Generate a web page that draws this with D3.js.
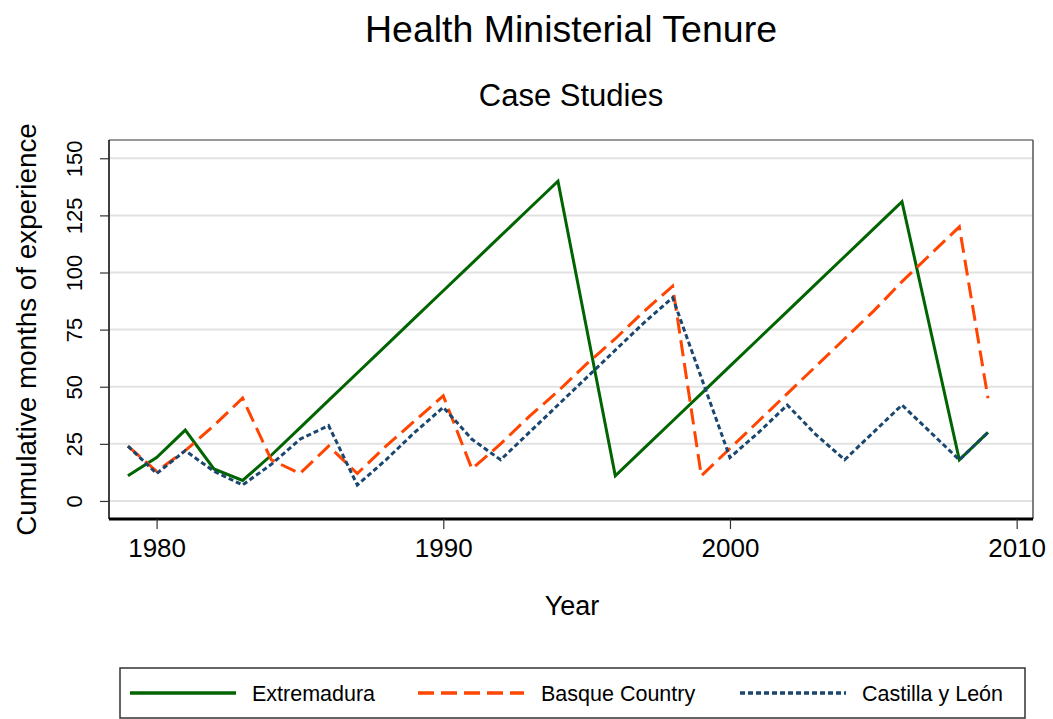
<!DOCTYPE html>
<html>
<head>
<meta charset="utf-8">
<script src="https://cdn.jsdelivr.net/npm/d3@7"></script>
<style>
  body { margin: 0; background: #fff; }
  text { font-family: Arial, "Liberation Sans", sans-serif; fill: #000; }
</style>
</head>
<body>
<div id="chart"></div>
<script>
// years on the x axis
var years = [1979, 1980, 1981, 1982, 1983, 1984, 1985, 1986, 1987, 1988, 1989,
             1990, 1991, 1992, 1993, 1994, 1995, 1996, 1997, 1998, 1999,
             2000, 2001, 2002, 2003, 2004, 2005, 2006, 2007, 2008, 2009];

// cumulative months of experience (null = no vertex seen)
var extremadura = [11, 19, 31, 14, 9, 20, 32, 44, 56, 68, 80,
                   92, 104, 116, 128, 140, null, 11, 23, 35, 47,
                   59, 71, 83, 95, 107, 119, 131, null, 18, 30];
var basque = [24, 13, 22, 33, 45, 18, 12, 24, 12, 24, 35,
              46, 14, 25, 37, 48, 60, 71, 83, 94, 11,
              23, 35, 47, 59, 71, 83, 96, 108, 120, 45];
var castilla = [24, 12, 22, 13, 7, 16, 27, 33, 7, 18, 30,
                41, 27, 18, 30, 42, 54, 66, 78, 89, 54,
                19, 30, 42, 29, 18, 30, 42, 30, 18, 30];

var seriesNames = ['Extremadura', 'Basque Country', 'Castilla y León'];
var yTicks = [0, 25, 50, 75, 100, 125, 150];
var xTicks = [1980, 1990, 2000, 2010];

var width = 1053, height = 719;
var plotLeft = 109, plotRight = 1033, plotTop = 140, plotBottom = 519;

var series = [
  { name: seriesNames[0], values: extremadura, color: '#006400', dash: null },
  { name: seriesNames[1], values: basque, color: '#ff4500', dash: '16,7' },
  { name: seriesNames[2], values: castilla, color: '#1a476f', dash: '5,3' }
];

var svg = d3.select('#chart')
  .append('svg')
  .attr('width', width)
  .attr('height', height);

var x = d3.scaleLinear()
  .domain([1978.34, 2010.57])
  .range([plotLeft, plotRight]);

var y = d3.scaleLinear()
  .domain([-7.9, 158])
  .range([plotBottom, plotTop]);

// titles
svg.append('text')
  .attr('x', 571).attr('y', 42)
  .attr('text-anchor', 'middle')
  .style('font-size', '37.5px')
  .text('Health Ministerial Tenure');

svg.append('text')
  .attr('x', 571).attr('y', 106)
  .attr('text-anchor', 'middle')
  .style('font-size', '31px')
  .text('Case Studies');

// grid
svg.append('g')
  .selectAll('line')
  .data(yTicks)
  .enter()
  .append('line')
  .attr('x1', plotLeft).attr('x2', plotRight)
  .attr('y1', function(d) { return y(d); })
  .attr('y2', function(d) { return y(d); })
  .attr('stroke', '#e2e2e2')
  .attr('stroke-width', 2);

// plot frame (top/right)
svg.append('line')
  .attr('x1', plotLeft).attr('x2', plotRight).attr('y1', plotTop).attr('y2', plotTop)
  .attr('stroke', '#333').attr('stroke-width', 1.2);
svg.append('line')
  .attr('x1', plotRight).attr('x2', plotRight).attr('y1', plotTop).attr('y2', plotBottom)
  .attr('stroke', '#555').attr('stroke-width', 1.5);

// lines
var line = d3.line()
  .x(function(d) { return x(d[0]); })
  .y(function(d) { return y(d[1]); });

series.forEach(function(s) {
  var pts = years.map(function(yr, i) { return [yr, s.values[i]]; })
    .filter(function(d) { return d[1] != null; });
  svg.append('path')
    .datum(pts)
    .attr('d', line)
    .attr('fill', 'none')
    .attr('stroke', s.color)
    .attr('stroke-width', 3)
    .attr('stroke-linejoin', 'miter')
    .attr('stroke-dasharray', s.dash);
});

// y axis
var yAxis = svg.append('g')
  .attr('transform', 'translate(' + plotLeft + ',0)')
  .call(d3.axisLeft(y).tickValues(yTicks).tickSize(9).tickPadding(18));
yAxis.select('.domain').attr('stroke', '#000').attr('stroke-width', 1.5)
  .attr('d', 'M0,' + plotTop + 'V' + plotBottom);
yAxis.selectAll('.tick line').attr('stroke', '#333').attr('stroke-width', 1.2);
yAxis.selectAll('.tick text')
  .style('font-size', '22px')
  .style('font-family', 'Arial, "Liberation Sans", sans-serif')
  .attr('fill', '#000')
  .attr('text-anchor', 'middle')
  .attr('dy', null)
  .attr('x', 0)
  .attr('y', 0)
  .attr('transform', 'translate(-27,0) rotate(-90)');

// x axis
var xAxis = svg.append('g')
  .attr('transform', 'translate(0,' + plotBottom + ')')
  .call(d3.axisBottom(x).tickValues(xTicks).tickFormat(d3.format('d')).tickSize(10).tickPadding(10));
xAxis.select('.domain').attr('stroke', '#000').attr('stroke-width', 3)
  .attr('d', 'M' + plotLeft + ',0H' + plotRight);
xAxis.selectAll('.tick line').attr('stroke', '#333').attr('stroke-width', 1.2);
xAxis.selectAll('.tick text')
  .style('font-size', '26px')
  .style('font-family', 'Arial, "Liberation Sans", sans-serif')
  .attr('fill', '#000');

// axis titles
svg.append('text')
  .attr('transform', 'translate(36,' + ((plotTop + plotBottom) / 2) + ') rotate(-90)')
  .attr('text-anchor', 'middle')
  .style('font-size', '27.8px')
  .text('Cumulative months of experience');

svg.append('text')
  .attr('x', 572).attr('y', 615)
  .attr('text-anchor', 'middle')
  .style('font-size', '27px')
  .text('Year');

// legend
svg.append('rect')
  .attr('x', 120).attr('y', 668)
  .attr('width', 905).attr('height', 50)
  .attr('fill', 'none')
  .attr('stroke', '#333')
  .attr('stroke-width', 1.5);

var legendX = [130, 418, 740];
var legend = svg.selectAll('.legend')
  .data(series)
  .enter()
  .append('g')
  .attr('class', 'legend')
  .attr('transform', function(d, i) { return 'translate(' + legendX[i] + ',693)'; });

legend.append('line')
  .attr('x1', 0).attr('x2', 106)
  .attr('y1', 0).attr('y2', 0)
  .attr('stroke', function(d) { return d.color; })
  .attr('stroke-width', 3.5)
  .attr('stroke-dasharray', function(d) { return d.dash; });

legend.append('text')
  .attr('x', function(d, i) { return [122, 123, 122][i]; })
  .attr('y', 8)
  .style('font-size', '21.5px')
  .text(function(d) { return d.name; });
</script>
</body>
</html>
